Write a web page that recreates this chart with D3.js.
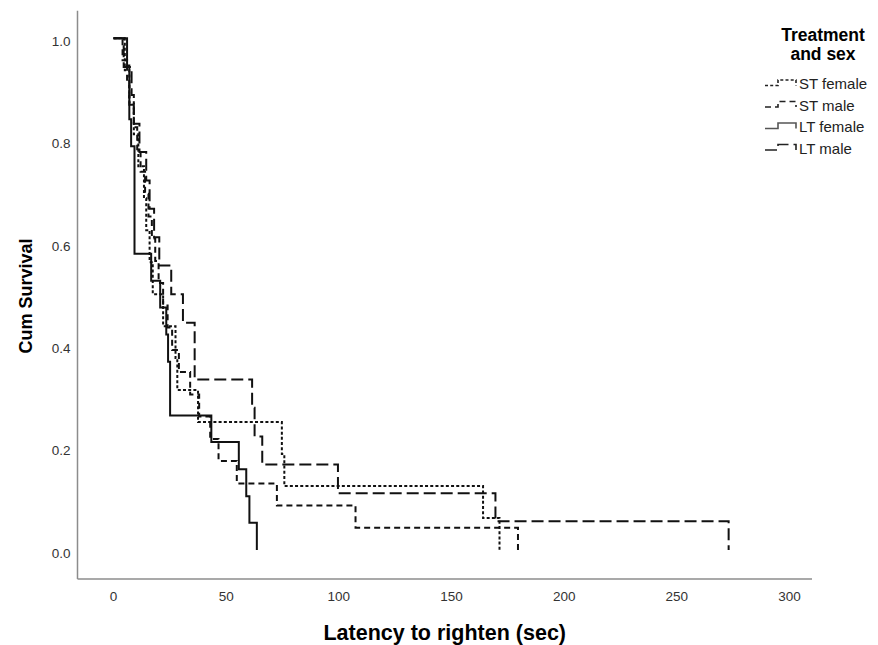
<!DOCTYPE html>
<html>
<head>
<meta charset="utf-8">
<script src="https://cdn.jsdelivr.net/npm/d3@7"></script>
<style>
  body { margin: 0; background: #fff; }
  svg { display: block; font-family: "Liberation Sans", Arial, sans-serif; }
</style>
</head>
<body>
<svg id="chart"></svg>
<script>
// Kaplan-Meier steps: time of each drop and the survival after it
const stFemaleTime = [0, 5, 7, 9, 11, 13.5, 14.5, 16, 17.4, 22, 27.5, 28.3, 37.5, 74.7, 75.8, 164, 171.3];
const stFemaleSurv = [1, 0.9375, 0.875, 0.8125, 0.75, 0.6875, 0.625, 0.5625, 0.5, 0.4375, 0.375, 0.3125, 0.25, 0.1875, 0.125, 0.0625, 0];

const stMaleTime = [0, 4, 6, 7, 9, 10.5, 12, 14, 15.5, 17, 18.5, 20, 22, 24, 26, 29, 34, 38, 42.9, 46.6, 54.7, 72.5, 107.4, 179.5];
const stMaleSurv = [1, 0.957, 0.913, 0.870, 0.826, 0.783, 0.739, 0.696, 0.652, 0.609, 0.565, 0.522, 0.478, 0.435, 0.391, 0.348, 0.304, 0.261, 0.217, 0.174, 0.130, 0.087, 0.0435, 0];

const ltFemaleTime = [0, 6, 7, 7.8, 9.3, 16.7, 20.7, 23.4, 24.2, 25.1, 43.4, 55.6, 58.9, 60.3, 63.6];
const ltFemaleSurv = [1, 0.947, 0.842, 0.789, 0.579, 0.526, 0.474, 0.421, 0.368, 0.263, 0.211, 0.158, 0.105, 0.053, 0];

const ltMaleTime = [0, 4.5, 8, 9, 11.5, 14.5, 16, 18, 20.3, 25.6, 30.8, 36, 61.5, 62.6, 66, 99.6, 169.5, 273];
const ltMaleSurv = [1, 0.944, 0.889, 0.833, 0.778, 0.722, 0.667, 0.611, 0.556, 0.5, 0.444, 0.333, 0.278, 0.222, 0.167, 0.111, 0.056, 0];

const groupNames = ["ST female", "ST male", "LT female", "LT male"];
const groupDash = ["3,2.2", "6,4", null, "12,5"];

const xTicks = [0, 50, 100, 150, 200, 250, 300];
const yTicks = [0, 0.2, 0.4, 0.6, 0.8, 1.0];

const width = 878, height = 645;

const svg = d3.select("#chart")
  .attr("width", width)
  .attr("height", height);

const x = d3.scaleLinear().domain([-16, 310]).range([77.5, 812]);
const y = d3.scaleLinear().domain([-0.0567, 1.054]).range([579, 10.7]);

// axis lines (no tick marks in the original)
svg.append("line")
  .attr("x1", x.range()[0]).attr("x2", x.range()[0])
  .attr("y1", y.range()[0]).attr("y2", y.range()[1])
  .attr("stroke", "#8c8c8c").attr("stroke-width", 1.5);
svg.append("line")
  .attr("x1", x.range()[0]).attr("x2", x.range()[1])
  .attr("y1", y.range()[0]).attr("y2", y.range()[0])
  .attr("stroke", "#8c8c8c").attr("stroke-width", 1.5);

svg.append("g")
  .selectAll("text")
  .data(yTicks)
  .join("text")
  .attr("x", 70.5)
  .attr("y", d => y(d) + 3)
  .attr("dy", "0.35em")
  .attr("text-anchor", "end")
  .attr("font-size", 13.5)
  .attr("fill", "#333")
  .text(d => d.toFixed(1));

svg.append("g")
  .selectAll("text")
  .data(xTicks)
  .join("text")
  .attr("x", d => x(d))
  .attr("y", 596)
  .attr("dy", "0.35em")
  .attr("text-anchor", "middle")
  .attr("font-size", 13.5)
  .attr("fill", "#333")
  .text(d => d);

svg.append("text")
  .attr("x", (x.range()[0] + x.range()[1]) / 2)
  .attr("y", 640)
  .attr("text-anchor", "middle")
  .attr("font-size", 21.5)
  .attr("font-weight", "bold")
  .text("Latency to righten (sec)");

svg.append("text")
  .attr("transform", "translate(32,296) rotate(-90)")
  .attr("text-anchor", "middle")
  .attr("font-size", 18)
  .attr("font-weight", "bold")
  .text("Cum Survival");

// survival curves
const groups = [
  [stFemaleTime, stFemaleSurv],
  [stMaleTime, stMaleSurv],
  [ltFemaleTime, ltFemaleSurv],
  [ltMaleTime, ltMaleSurv]
].map(([t, s], i) => ({ name: groupNames[i], dash: groupDash[i], points: t.map((v, j) => [v, s[j]]) }));

const line = d3.line()
  .x(d => x(d[0]))
  .y(d => y(d[1]))
  .curve(d3.curveStepAfter);

svg.append("g")
  .selectAll("path")
  .data(groups)
  .join("path")
  .attr("d", d => line(d.points))
  .attr("fill", "none")
  .attr("stroke", "#111")
  .attr("stroke-width", 2)
  .attr("stroke-dasharray", d => d.dash);

// legend
const legend = svg.append("g").attr("transform", "translate(823,0)");
legend.append("text")
  .attr("y", 41).attr("text-anchor", "middle")
  .attr("font-size", 17.5).attr("font-weight", "bold")
  .text("Treatment");
legend.append("text")
  .attr("y", 60).attr("text-anchor", "middle")
  .attr("font-size", 17.5).attr("font-weight", "bold")
  .text("and sex");

const rows = legend.selectAll("g.row")
  .data(groups)
  .join("g")
  .attr("class", "row")
  .attr("transform", (d, i) => `translate(-58,${84 + i * 21.5})`);

rows.append("path")
  .attr("d", "M0,1.5H13V-4H31V1.5")
  .attr("fill", "none")
  .attr("stroke", (d, i) => i === 2 ? "#555" : "#222")
  .attr("stroke-width", 1.6)
  .attr("stroke-dasharray", d => d.dash);

rows.append("text")
  .attr("x", 34)
  .attr("dy", "0.35em")
  .attr("font-size", 15)
  .attr("fill", "#222")
  .text(d => d.name);
</script>
</body>
</html>
